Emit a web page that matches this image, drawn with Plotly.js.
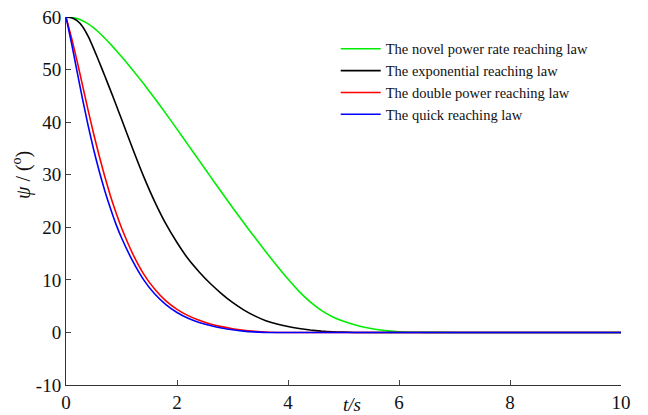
<!DOCTYPE html>
<html>
<head>
<meta charset="utf-8">
<script src="https://cdn.plot.ly/plotly-3.0.1.min.js"></script>
<style>html,body{margin:0;padding:0;background:#fff;}#chart{width:648px;height:415px;}</style>
</head>
<body>
<div id="chart"></div>
<script>
const seriesNames = [
  "The novel power rate reaching law",
  "The exponential reaching law",
  "The double power reaching law",
  "The quick reaching law"
];
const seriesColors = ["#00ee00", "#000000", "#ff0000", "#0000ff"];

const t = [0,0.1,0.2,0.3,0.4,0.5,0.6,0.7,0.8,0.9,1.0,1.2,1.4,1.6,1.8,2.0,2.2,2.4,2.6,2.8,3.0,3.2,3.4,3.6,3.8,4.0,4.2,4.4,4.6,4.8,5.0,5.2,5.4,5.6,5.8,6.0,6.2,6.5,7,8,9,10];

const novelPower = [60,59.92,59.7,59.3,58.7,57.93,57.0,55.96,54.85,53.68,52.47,49.94,47.28,44.5,41.62,38.67,35.68,32.68,29.68,26.7,23.77,20.9,18.09,15.35,12.7,10.15,7.8,5.8,4.2,3.0,2.12,1.45,0.94,0.56,0.29,0.12,0.04,0.01,0,0,0,0];
const exponential = [60,59.85,59.3,58.15,56.3,53.95,51.4,48.77,46.09,43.36,40.58,34.98,29.63,24.83,20.63,17.1,14.0,11.5,9.3,7.4,5.7,4.3,3.15,2.24,1.6,1.11,0.74,0.46,0.25,0.12,0.05,0,0,0,0,0,0,0,0,0,0,0];
const doublePower = [60,56.0,51.6,46.9,42.2,37.7,33.5,29.6,26.0,22.8,19.9,15.0,11.1,8.2,6.0,4.4,3.2,2.3,1.6,1.1,0.7,0.4,0.2,0.08,0,0,0,0,0,0,0,0,0,0,0,0,0,0,0,0,0,0];
const quick = [60,55.0,49.6,44.3,39.3,34.7,30.6,26.9,23.6,20.6,18.0,13.6,10.0,7.3,5.3,3.8,2.7,1.9,1.3,0.85,0.5,0.25,0.1,0,0,0,0,0,0,0,0,0,0,0,0,0,0,0,0,0,0,0];

const xTicks = [0,2,4,6,8,10];
const yTicks = [-10,0,10,20,30,40,50,60];

const serif = "Liberation Serif";

const allY = [novelPower, exponential, doublePower, quick];
const traces = allY.map((y, i) => ({
  x: t, y: y, type: "scatter", mode: "lines", name: seriesNames[i],
  line: {color: seriesColors[i], width: 1.6, shape: "spline", smoothing: 0.5}
}));

const tickFont = {family: serif, size: 19, color: "#111"};

const layout = {
  width: 648, height: 415,
  margin: {l: 66, r: 27, t: 17, b: 30},
  paper_bgcolor: "#fff", plot_bgcolor: "#fff",
  font: {family: serif, size: 18, color: "#111"},
  showlegend: true,
  legend: {
    x: 0.486, y: 0.957, xanchor: "left", yanchor: "top",
    bgcolor: "rgba(255,255,255,0)", borderwidth: 0,
    font: {family: serif, size: 14.5, color: "#111"},
    itemwidth: 40, tracegroupgap: 0
  },
  xaxis: {
    range: [0, 10], tickvals: xTicks, ticktext: xTicks.map(String),
    showgrid: false, zeroline: false, showline: true, linecolor: "#333", linewidth: 1,
    ticks: "inside", ticklen: 5, tickcolor: "#444", tickfont: tickFont
  },
  yaxis: {
    range: [-10, 60], tickvals: yTicks, ticktext: yTicks.map(String),
    showgrid: false, zeroline: false, showline: true, linecolor: "#333", linewidth: 1,
    ticks: "inside", ticklen: 5, tickcolor: "#444", tickfont: tickFont
  },
  xaxis2: {
    range: [0, 10], tickvals: xTicks, overlaying: "x", side: "top", anchor: "y",
    showgrid: false, zeroline: false, showline: true, linecolor: "#888", linewidth: 1,
    ticks: "inside", ticklen: 5, tickcolor: "#555", showticklabels: false
  },
  yaxis2: {
    range: [-10, 60], tickvals: yTicks, overlaying: "y", side: "right", anchor: "x",
    showgrid: false, zeroline: false, showline: true, linecolor: "#888", linewidth: 1,
    ticks: "inside", ticklen: 5, tickcolor: "#555", showticklabels: false
  },
  annotations: [
    {text: "<i>ψ</i> / (<sup>o</sup>)", xref: "paper", yref: "paper", x: -0.079, y: 0.571,
     textangle: -90, showarrow: false, xanchor: "center", yanchor: "middle",
     font: {family: serif, size: 20, color: "#111"}},
    {text: "<i>t/s</i>", xref: "paper", yref: "paper", x: 0.515, y: -0.054,
     showarrow: false, xanchor: "center", yanchor: "middle",
     font: {family: serif, size: 19, color: "#111"}}
  ]
};

Plotly.newPlot("chart", traces, layout, {staticPlot: true, displayModeBar: false});
</script>
</body>
</html>
